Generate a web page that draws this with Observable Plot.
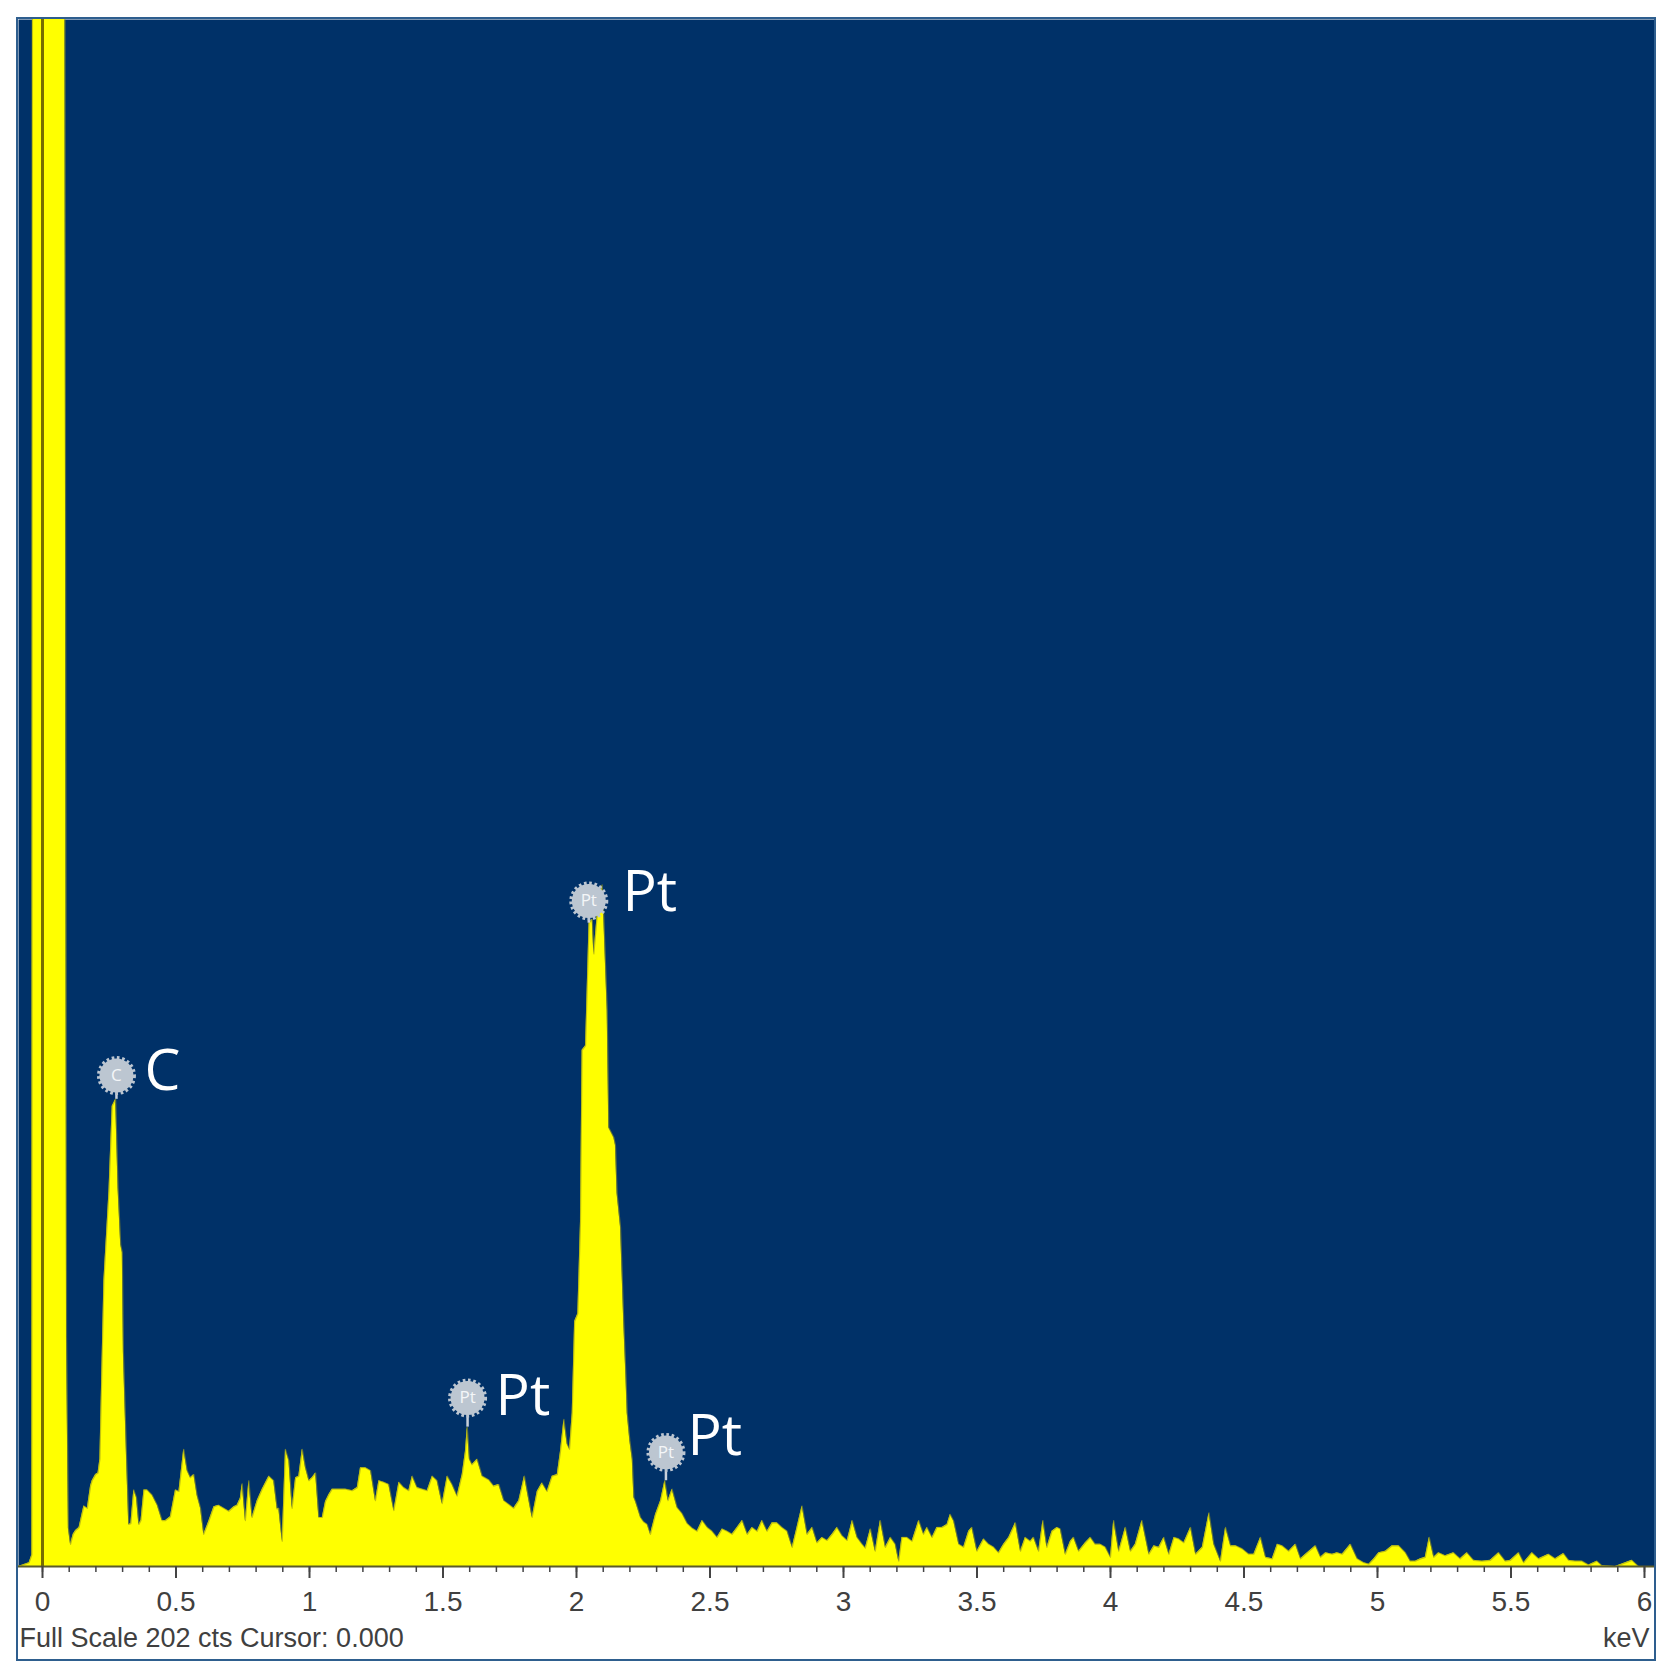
<!DOCTYPE html>
<html>
<head>
<meta charset="utf-8">
<script src="https://cdn.jsdelivr.net/npm/d3@7"></script>
<script src="https://cdn.jsdelivr.net/npm/@observablehq/plot@0.6"></script>
<style>
  html, body { margin: 0; padding: 0; background: #ffffff; }
  #panel { position: absolute; left: 18px; top: 19px; width: 1636px; height: 1640px;
           outline: 2px solid #2e5e8e; }
  #panel svg { display: block; }
</style>
</head>
<body>
<div id="panel"></div>
<script>
// EDS spectrum: [energy keV, counts]
const spectrum = [
  [-0.090,0],[-0.050,0.5],[-0.040,1.5],[-0.037,260],[0.082,260],[0.090,30],[0.097,5],[0.105,2.9],
  [0.115,4.2],[0.124,4.7],[0.137,5.1],[0.155,7.9],[0.168,7.6],[0.180,10.5],[0.186,11.2],[0.199,12],
  [0.208,12.2],[0.215,14],[0.222,25],[0.230,37.3],[0.249,49],[0.261,60.1],[0.274,61],[0.283,49.4],
  [0.293,42],[0.299,41],[0.303,28],[0.315,14],[0.323,5.5],[0.331,5.6],[0.342,10],[0.352,9],
  [0.361,5.5],[0.369,6],[0.380,10],[0.392,10],[0.411,9.3],[0.430,8],[0.448,6],[0.461,6],
  [0.479,6.5],[0.498,10],[0.511,9.8],[0.529,15.3],[0.542,12.5],[0.554,11.6],[0.567,12],[0.579,9.3],
  [0.592,7.6],[0.604,4.2],[0.623,5.9],[0.642,7.8],[0.660,8],[0.679,7.6],[0.698,7.2],[0.717,7.8],
  [0.729,8],[0.741,8.9],[0.748,10.8],[0.760,6],[0.773,11.2],[0.785,6.4],[0.804,8.6],[0.823,10.1],
  [0.848,11.8],[0.866,11.2],[0.879,7.5],[0.885,7.6],[0.898,3.3],[0.910,15.3],[0.923,13.8],[0.935,7.6],
  [0.948,11.6],[0.960,11.8],[0.973,15.3],[0.985,12.9],[0.998,11.2],[1.010,11.6],[1.023,12.2],[1.035,6.4],
  [1.048,6.4],[1.060,8.5],[1.073,9.4],[1.085,10.1],[1.110,10.1],[1.135,10.1],[1.160,9.9],[1.179,10.3],
  [1.191,12.9],[1.210,12.9],[1.229,12.5],[1.247,8.6],[1.260,11.2],[1.278,11],[1.297,10.7],[1.316,7.3],
  [1.335,11],[1.353,10.3],[1.372,9.9],[1.385,11.8],[1.403,10.3],[1.422,10.1],[1.441,9.9],[1.460,11.8],
  [1.478,11.2],[1.497,8.2],[1.516,11.8],[1.534,10.7],[1.553,9.2],[1.572,12],[1.584,15],[1.591,18.2],
  [1.599,14],[1.609,13.3],[1.628,14],[1.647,11.8],[1.672,11.3],[1.690,10.5],[1.709,10.7],[1.728,8.6],
  [1.747,8.1],[1.765,7.6],[1.784,8.6],[1.805,11.8],[1.822,8.6],[1.834,6.4],[1.853,9.8],[1.871,10.9],
  [1.890,9.8],[1.909,11.8],[1.928,12],[1.940,15],[1.953,19.2],[1.965,16],[1.974,15.3],[1.984,20],
  [1.993,32],[2.005,33],[2.015,45],[2.021,67.4],[2.034,68],[2.047,84],[2.059,84.5],[2.065,80],
  [2.080,86],[2.096,89],[2.102,85],[2.115,72.6],[2.121,57.3],[2.140,56],[2.146,55],[2.152,48.7],
  [2.165,44.3],[2.177,32],[2.185,25],[2.190,20],[2.200,16.4],[2.209,14],[2.215,9],[2.221,8.5],
  [2.240,6.4],[2.252,5.8],[2.265,5.5],[2.277,4.2],[2.296,6.8],[2.315,8.6],[2.331,11.2],[2.343,8.6],
  [2.358,10.1],[2.377,7.7],[2.396,6.9],[2.415,5.6],[2.434,5],[2.452,4.6],[2.471,6],[2.490,5.1],
  [2.508,4.6],[2.527,3.8],[2.546,4.9],[2.564,4.6],[2.583,4.2],[2.602,5.1],[2.621,6],[2.640,4.2],
  [2.658,5.1],[2.677,4.6],[2.695,6],[2.714,4.6],[2.733,5.7],[2.751,5.7],[2.770,5.1],[2.789,4.6],
  [2.808,2.5],[2.826,5.1],[2.845,7.9],[2.864,4.2],[2.883,5.1],[2.901,3.1],[2.920,3.8],[2.939,3.4],
  [2.958,4.2],[2.976,5.1],[2.995,4],[3.014,3.4],[3.033,6],[3.051,3.8],[3.070,2.9],[3.082,2.4],
  [3.101,4.9],[3.119,2],[3.138,6],[3.157,2.5],[3.176,3.8],[3.194,2.9],[3.207,0.7],[3.219,3.8],
  [3.238,3.8],[3.257,3.3],[3.282,6],[3.300,4.2],[3.313,5.1],[3.332,3.8],[3.350,5.1],[3.369,5.1],
  [3.388,5.5],[3.400,6.8],[3.413,5.9],[3.432,2.9],[3.450,2.5],[3.469,4.6],[3.481,5.1],[3.500,2],
  [3.525,3.6],[3.544,2.9],[3.563,2.5],[3.581,1.8],[3.600,2.9],[3.619,3.8],[3.644,5.7],[3.663,2],
  [3.681,3.8],[3.700,3.3],[3.712,3.8],[3.731,2],[3.747,6],[3.762,2.5],[3.781,4.6],[3.800,5.1],
  [3.812,4.9],[3.831,1.6],[3.850,3.3],[3.862,3.8],[3.881,2],[3.906,3.1],[3.925,3.8],[3.943,2.9],
  [3.962,2.9],[3.981,2.5],[4.000,1.2],[4.012,6],[4.031,2],[4.056,5.1],[4.075,2],[4.093,2.9],
  [4.118,6],[4.144,1.6],[4.163,2.7],[4.181,2.5],[4.200,3.8],[4.219,1.6],[4.238,3.8],[4.256,3.6],
  [4.275,3.1],[4.300,5.1],[4.319,1.6],[4.344,2.5],[4.369,7],[4.387,2.9],[4.412,0.7],[4.431,5.1],
  [4.450,2.7],[4.469,2.7],[4.494,2.3],[4.518,1.6],[4.537,1.6],[4.562,3.8],[4.581,1.2],[4.606,1],
  [4.625,2.9],[4.643,2.7],[4.668,2],[4.693,2.9],[4.712,1],[4.731,1.6],[4.768,2.7],[4.787,1.2],
  [4.806,1.8],[4.831,1.6],[4.849,1.8],[4.868,1.6],[4.899,2.9],[4.924,1],[4.949,0.5],[4.968,0.3],
  [4.987,1],[5.005,1.8],[5.030,2],[5.055,2.7],[5.080,2.7],[5.105,1.8],[5.123,0.7],[5.142,0.7],
  [5.161,1],[5.179,1.2],[5.194,3.8],[5.211,1.2],[5.229,1.8],[5.254,1.4],[5.285,1.8],[5.310,1],
  [5.335,1.8],[5.360,0.8],[5.392,0.7],[5.423,0.8],[5.454,1.8],[5.479,0.7],[5.498,0.8],[5.529,1.8],
  [5.548,0.5],[5.579,1.8],[5.604,1],[5.641,1.6],[5.666,1],[5.697,1.7],[5.716,0.8],[5.741,0.7],
  [5.766,0.7],[5.791,0.2],[5.822,0.7],[5.841,0.1],[5.891,0],[5.953,0.8],[5.978,0],[6.040,0]
];

// Element markers
const markerSymbol = ["C", "Pt", "Pt", "Pt"];
const markerKeV    = [0.277, 1.592, 2.046, 2.335];
const markerPeak   = [61, 18.2, 84, 11.2];
const markerBadge  = [64.1, 22.0, 86.9, 14.9];
const labelKeV     = [0.382, 1.697, 2.172, 2.416];
const labelCounts  = [64.6, 22.2, 88.0, 16.9];

// Axis
const majorTicks = [0, 0.5, 1, 1.5, 2, 2.5, 3, 3.5, 4, 4.5, 5, 5.5, 6];
const tickLabels = ["0", "0.5", "1", "1.5", "2", "2.5", "3", "3.5", "4", "4.5", "5", "5.5", "6"];
const minorTicks = d3.range(0, 61).map(i => i / 10);
const fullScale = 202;
const captionLeft = "Full Scale 202 cts Cursor: 0.000";
const captionRight = "keV";

const NAVY = "#003168";
const YELLOW = "#ffff00";

const markers = markerSymbol.map((s, i) => ({
  symbol: s, keV: markerKeV[i], peak: markerPeak[i], badge: markerBadge[i],
  lx: labelKeV[i], ly: labelCounts[i]
}));
const spec = spectrum.map(([e, c]) => ({e, c}));
const ticks = majorTicks.map((t, i) => ({t, label: tickLabels[i]}));

const chart = Plot.plot({
  width: 1636,
  height: 1640,
  marginLeft: 0,
  marginRight: 0,
  marginTop: 0,
  marginBottom: 93,
  x: {domain: [-0.0899, 6.0375], axis: null},
  y: {domain: [0, fullScale], axis: null},
  style: {background: "transparent", overflow: "visible"},
  marks: [
    Plot.frame({fill: NAVY, stroke: null}),
    Plot.areaY(spec, {x: "e", y: "c", fill: YELLOW, curve: "linear", clip: true}),
    Plot.lineY(spec, {x: "e", y: "c", stroke: "#9a9a1a", strokeWidth: 1.2, strokeOpacity: 0.6, curve: "linear", clip: true}),
    Plot.ruleX([0], {stroke: "#4a3d00", strokeWidth: 3, strokeOpacity: 0.75}),
    Plot.ruleY([0], {stroke: "#5b5b2a", strokeWidth: 2}),
    Plot.axisX({ticks: minorTicks, tickSize: 6, tickFormat: () => "", label: null, stroke: "#444", strokeWidth: 1.5}),
    Plot.axisX({ticks: majorTicks, tickSize: 12, tickFormat: () => "", label: null, stroke: "#444", strokeWidth: 2}),
    Plot.text(ticks, {x: "t", text: "label", frameAnchor: "bottom", dy: 36, lineAnchor: "middle",
      fontSize: 28, fontFamily: "Liberation Sans, Arial, sans-serif", fill: "#404040"}),
    Plot.text([captionLeft], {frameAnchor: "bottom-left", textAnchor: "start", dx: 1, dy: 72, lineAnchor: "middle",
      fontSize: 27, fontFamily: "Liberation Sans, Arial, sans-serif", fill: "#404040"}),
    Plot.text([captionRight], {frameAnchor: "bottom-right", textAnchor: "end", dx: -5, dy: 72, lineAnchor: "middle",
      fontSize: 27, fontFamily: "Liberation Sans, Arial, sans-serif", fill: "#404040"}),
    Plot.ruleX(markers, {x: "keV", y1: "peak", y2: "badge", stroke: "#c9d1db", strokeWidth: 2.5}),
    Plot.dot(markers, {x: "keV", y: "badge", r: 17, fill: "#bcc6d1", stroke: "#bcc6d1", strokeWidth: 5, strokeDasharray: "2.5,2.5"}),
    Plot.text(markers, {x: "keV", y: "badge", text: "symbol", fill: "#f4f6f8", fontSize: 17,
      fontFamily: "Open Sans, sans-serif"}),
    Plot.text(markers, {x: "lx", y: "ly", text: "symbol", textAnchor: "start", fill: "#ffffff", fontSize: 57,
      fontFamily: "Open Sans, sans-serif"})
  ]
});
document.getElementById("panel").appendChild(chart);
</script>
</body>
</html>
